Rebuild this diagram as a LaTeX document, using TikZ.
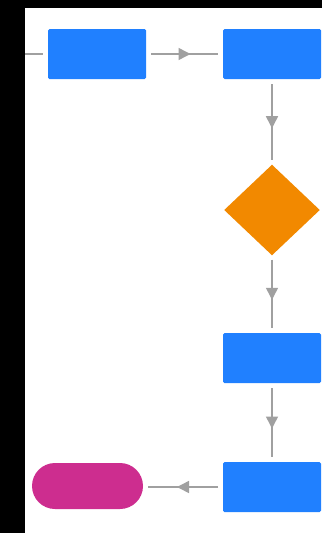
\documentclass[tikz,border=0pt]{standalone}
\usepackage{tikz}
\usetikzlibrary{shapes.geometric,shapes.misc,arrows.meta,decorations.markings}

\definecolor{stepblue}{RGB}{32,128,255}
\definecolor{decorange}{RGB}{242,137,0}
\definecolor{endpink}{RGB}{205,45,143}
\definecolor{linegray}{RGB}{160,160,160}

\begin{document}
\begin{tikzpicture}[%
        x = 1pt, y = -1pt,
        stepbox/.style = {rectangle, rounded corners=1.5pt, fill=stepblue,
            minimum width=98pt, minimum height=50pt, inner sep=0, outer sep=5pt},
        decision/.style = {diamond, fill=decorange, inner sep=0,
            minimum width=98pt, minimum height=93pt, outer sep=3pt},
        terminal/.style = {rounded rectangle, fill=endpink, inner sep=0,
            minimum width=111pt, minimum height=46pt, outer sep=5pt},
        flow/.style = {draw=linegray, line width=1.5pt, postaction={decorate},
            decoration={markings, mark=at position 0.5 with
                {\arrow[xshift=6pt, linegray]{Triangle[width=12pt,length=12pt]}}}},
        feed/.style = {draw=linegray, line width=1.5pt}
    ]
      \useasboundingbox (0,0) rectangle (322,533);
      \fill[black] (0,0) rectangle (322,533);
      \fill[white] (25,8) rectangle (322,533);

      \coordinate (in) at (25,54);
      \node[stepbox] (s1) at (97,54) {};
      \node[stepbox] (s2) at (272,54) {};
      \node[decision] (d1) at (272,210) {};
      \node[stepbox] (s3) at (272,358) {};
      \node[stepbox] (s4) at (272,487) {};
      \node[terminal] (done) at (87.5,486) {};

      \draw[feed] (in) -- (s1);
      \draw[flow] (s1) -- (s2);
      \draw[flow] (s2) -- (d1);
      \draw[flow] (d1) -- (s3);
      \draw[flow] (s3) -- (s4);
      \draw[flow] (s4.west) -- (done.east |- s4.west);
    \end{tikzpicture}
\end{document}
